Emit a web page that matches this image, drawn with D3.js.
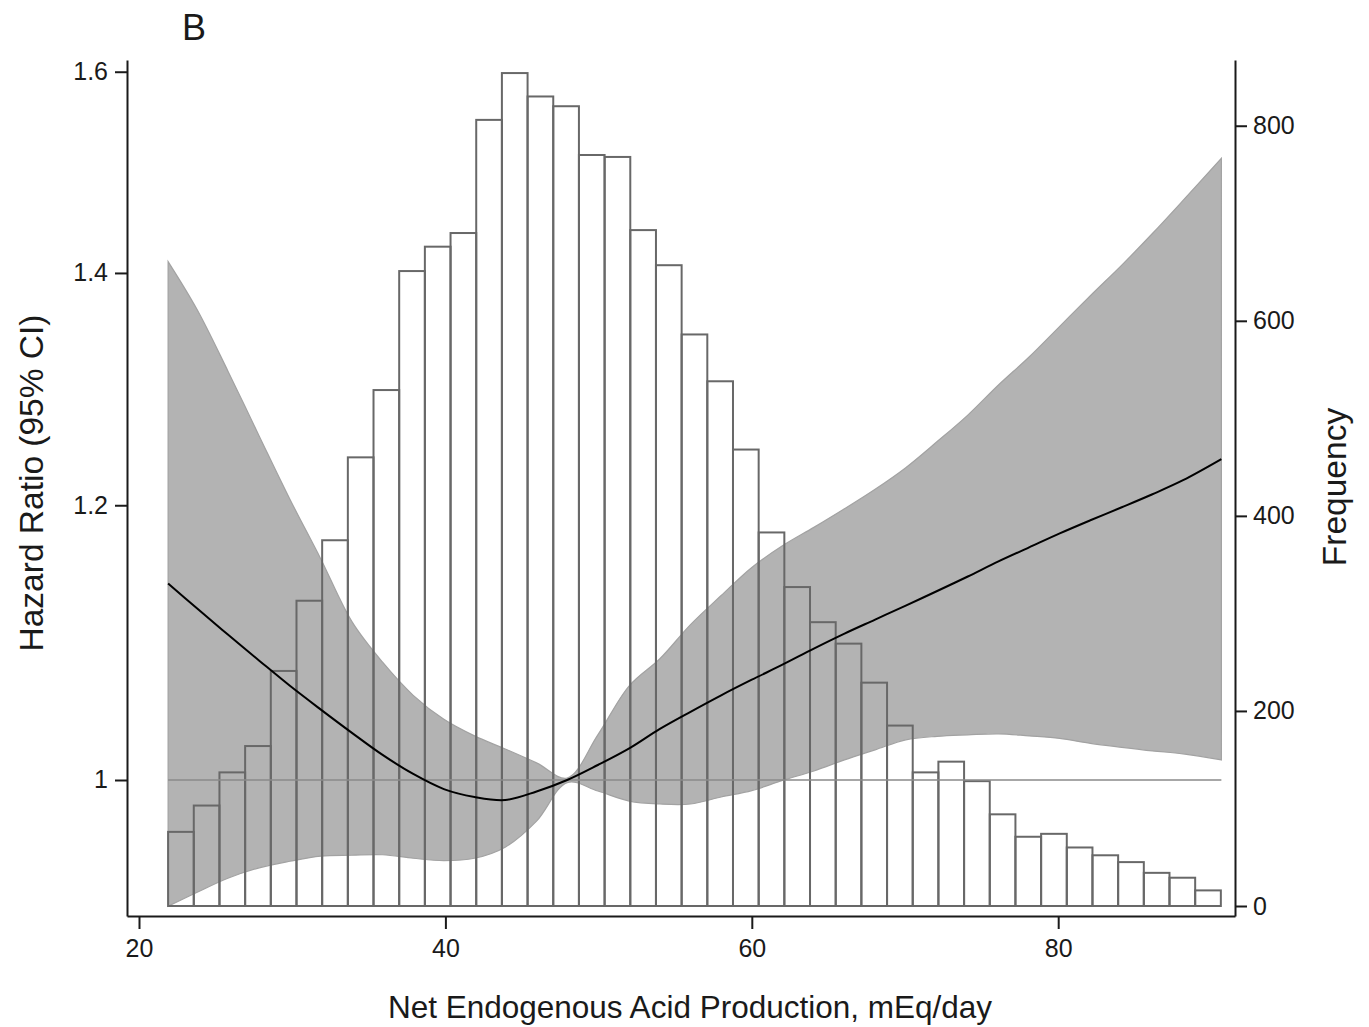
<!DOCTYPE html>
<html>
<head>
<meta charset="utf-8">
<script src="https://cdn.jsdelivr.net/npm/d3@7"></script>
<style>
  body { margin: 0; background: #fff; }
  svg text { font-family: "Liberation Sans", Arial, sans-serif; fill: #1a1a1a; }
</style>
</head>
<body>
<div id="chart"></div>
<script>
// Spline estimate of the hazard ratio with its 95% CI
const hrX = [21.9, 23.8, 25.8, 27.85, 29.85, 31.85, 33.9, 35.9, 37.9, 39.9, 41.9, 43.9,
  45.95, 47.95, 49.95, 52.0, 54.0, 56.0, 58.0, 60.0, 62.0, 64.05, 66.05, 68.05, 70.05,
  72.1, 74.1, 76.1, 78.1, 80.1, 82.1, 84.15, 86.15, 88.15, 90.65];
const hrEst = [1.1393, 1.1205, 1.1013, 1.0824, 1.0645, 1.0480, 1.0318, 1.0168, 1.0040,
  0.9940, 0.9888, 0.9868, 0.9924, 1.0, 1.0100, 1.0212, 1.0345, 1.0463, 1.0578, 1.0688,
  1.0795, 1.0911, 1.1020, 1.1123, 1.1227, 1.1336, 1.1446, 1.1561, 1.1669, 1.1778,
  1.1881, 1.1984, 1.2088, 1.2201, 1.2373];
const ciLower = [0.9196, 0.9282, 0.9369, 0.9434, 0.9475, 0.9507, 0.9513, 0.9516, 0.9494,
  0.9479, 0.9494, 0.9564, 0.9731, 0.9983, 0.9927, 0.9861, 0.9842, 0.9842, 0.9888, 0.9930,
  0.9997, 1.0060, 1.0134, 1.0202, 1.0270, 1.0294, 1.0304, 1.0311, 1.0297, 1.0280,
  1.0246, 1.0219, 1.0195, 1.0175, 1.0134];
const ciUpper = [1.4106, 1.3662, 1.3119, 1.2563, 1.2048, 1.1584, 1.1108, 1.0813, 1.0578,
  1.0411, 1.0297, 1.0208, 1.0114, 1.0013, 1.0304, 1.0645, 1.0838, 1.1086, 1.1302, 1.1515,
  1.1681, 1.1825, 1.1972, 1.2128, 1.2303, 1.2518, 1.2740, 1.2997, 1.3241, 1.3513,
  1.3790, 1.4073, 1.4371, 1.4690, 1.5106];

// Histogram of NEAP
const binStart = 21.9;
const binWidth = 1.676;
const freqCounts = [76, 103, 137, 164, 241, 313, 375, 460, 529, 651, 676, 690, 806, 854,
  830, 820, 770, 768, 693, 657, 586, 538, 468, 383, 327, 291, 269, 229, 185, 137, 148,
  128, 94, 71, 74, 60, 52, 45, 34, 29, 16];

const xTicks = [20, 40, 60, 80];
const hrTicks = [1, 1.2, 1.4, 1.6];
const freqTicks = [0, 200, 400, 600, 800];

const width = 1369;
const height = 1027;
const plotLeft = 127, plotRight = 1235, plotTop = 60, plotBottom = 916;

const svg = d3.select("#chart").append("svg")
  .attr("width", width)
  .attr("height", height);

// Scales
const xScale = d3.scaleLinear().domain([19.217, 91.54]).range([plotLeft, plotRight]);
const yHR = d3.scaleLog().domain([0.9137, 1.6125]).range([plotBottom, plotTop]);
const yFreq = d3.scaleLinear().domain([-10.25, 867.4]).range([plotBottom, plotTop]);

const hrData = hrX.map((x, i) => ({ x: x, est: hrEst[i], lo: ciLower[i], hi: ciUpper[i] }));

// Confidence band
const band = d3.area()
  .x(d => xScale(d.x))
  .y0(d => yHR(d.lo))
  .y1(d => yHR(d.hi))
  .curve(d3.curveCatmullRom.alpha(0.5));

svg.append("path")
  .datum(hrData)
  .attr("d", band)
  .attr("fill", "#b3b3b3")
  .attr("stroke", "#a2a2a2")
  .attr("stroke-width", 1.2);

// Histogram bars (outline only)
svg.append("g")
  .selectAll("rect")
  .data(freqCounts)
  .join("rect")
  .attr("x", (d, i) => xScale(binStart + i * binWidth))
  .attr("width", xScale(binStart + binWidth) - xScale(binStart))
  .attr("y", d => yFreq(d))
  .attr("height", d => yFreq(0) - yFreq(d))
  .attr("fill", "none")
  .attr("stroke", "#686868")
  .attr("stroke-width", 2);

// Reference line at HR = 1
svg.append("line")
  .attr("x1", xScale(hrX[0]))
  .attr("x2", xScale(hrX[hrX.length - 1]))
  .attr("y1", yHR(1))
  .attr("y2", yHR(1))
  .attr("stroke", "#8a8a8a")
  .attr("stroke-width", 1.6);

// Estimate line
const line = d3.line()
  .x(d => xScale(d.x))
  .y(d => yHR(d.est))
  .curve(d3.curveCatmullRom.alpha(0.5));

svg.append("path")
  .datum(hrData)
  .attr("d", line)
  .attr("fill", "none")
  .attr("stroke", "#000")
  .attr("stroke-width", 2);

// Axes
function styleAxis(g) {
  g.selectAll("path, line").attr("stroke", "#1a1a1a").attr("stroke-width", 2);
  g.selectAll("text").style("font-size", "25px").attr("fill", "#1a1a1a");
}

svg.append("g")
  .attr("transform", `translate(0,${plotBottom})`)
  .call(d3.axisBottom(xScale).tickValues(xTicks).tickSize(13).tickSizeOuter(0).tickPadding(8))
  .call(styleAxis)
  .call(g => g.selectAll("text").attr("dy", "0.78em"));

svg.append("g")
  .attr("transform", `translate(${plotLeft},0)`)
  .call(d3.axisLeft(yHR).tickValues(hrTicks).tickSize(12).tickSizeOuter(0).tickPadding(7)
    .tickFormat(d => d === 1 ? "1" : d3.format(".1f")(d)))
  .call(styleAxis);

svg.append("g")
  .attr("transform", `translate(${plotRight},0)`)
  .call(d3.axisRight(yFreq).tickValues(freqTicks).tickSize(12).tickSizeOuter(0).tickPadding(6))
  .call(styleAxis);

// Titles
svg.append("text")
  .attr("x", 690)
  .attr("y", 1018)
  .attr("text-anchor", "middle")
  .style("font-size", "31.5px")
  .text("Net Endogenous Acid Production, mEq/day");

svg.append("text")
  .attr("transform", "translate(43,483) rotate(-90)")
  .attr("text-anchor", "middle")
  .style("font-size", "33.5px")
  .text("Hazard Ratio (95% CI)");

svg.append("text")
  .attr("transform", "translate(1346,487) rotate(-90)")
  .attr("text-anchor", "middle")
  .style("font-size", "33.5px")
  .text("Frequency");

svg.append("text")
  .attr("x", 182)
  .attr("y", 40)
  .style("font-size", "36px")
  .text("B");
</script>
</body>
</html>
